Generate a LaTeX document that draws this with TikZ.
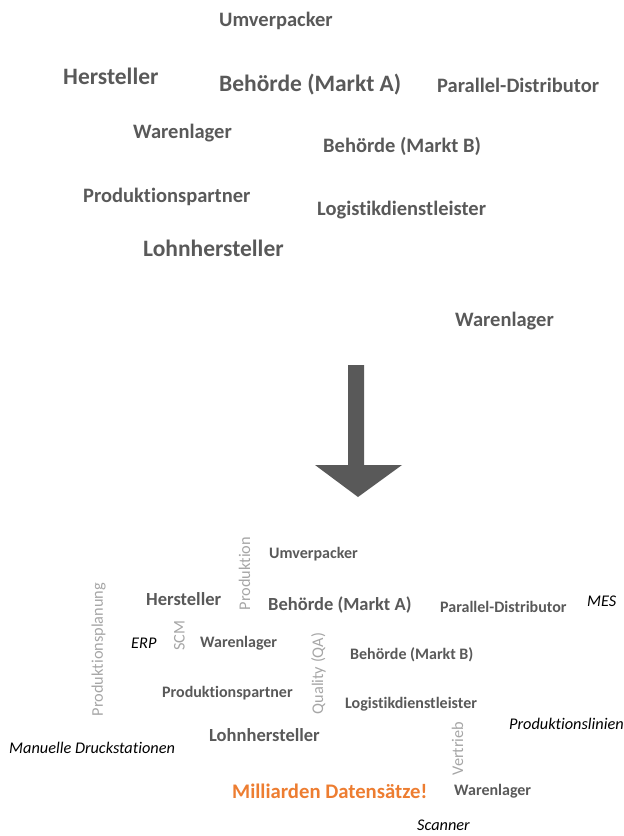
\documentclass[tikz,border=0pt]{standalone}
\usepackage{fontspec}
\setmainfont{Carlito}[Ligatures={NoCommon}]
\usetikzlibrary{arrows.meta, positioning}
\definecolor{textgrau}{HTML}{595959}
\definecolor{hellgrau}{HTML}{A6A6A6}
\definecolor{akzent}{HTML}{ED7D31}

\begin{document}
\begin{tikzpicture}[
	x=1pt, y=-1pt,
	every node/.style={inner sep=0pt, anchor=west, yshift=-1.5pt},
	akteur/.style={font=\fontsize{20.5}{24}\selectfont\bfseries, text=textgrau},
	akteur_gross/.style={font=\fontsize{23.5}{28}\selectfont\bfseries, text=textgrau},
	klein/.style={font=\fontsize{16}{19}\selectfont\bfseries, text=textgrau},
	klein_gross/.style={font=\fontsize{18.5}{22}\selectfont\bfseries, text=textgrau},
	bereich/.style={font=\fontsize{16.3}{19}\selectfont, text=hellgrau, rotate=90, anchor=center, yshift=1.5pt},
	system/.style={font=\fontsize{16.3}{19}\selectfont\itshape, text=black},
	fazit/.style={font=\fontsize{20.7}{24}\selectfont\bfseries, text=akzent}
	]
	\useasboundingbox (0,0) rectangle (624,836);
	
	% --- AKTEURE (OBEN) ---
	\node[akteur] (umv1) at (219,19) {Umverpacker};
	\node[akteur_gross] (her1) at (63,75) {Hersteller};
	\node[akteur_gross] (beha1) at (219,83) {Behörde (Markt A)};
	\node[akteur] (par1) at (437,84) {Parallel-Distributor};
	\node[akteur] (war1) at (133,132) {Warenlager};
	\node[akteur] (behb1) at (323,145) {Behörde (Markt B)};
	\node[akteur] (pro1) at (83,195) {Produktionspartner};
	\node[akteur] (log1) at (317,209) {Logistikdienstleister};
	\node[akteur_gross] (lohn1) at (143,247) {Lohnhersteller};
	\node[akteur] (war2) at (455,320) {Warenlager};
	
	% --- PFEIL ---
	\fill[textgrau] (348,365) -- (364,365) -- (364,465) -- (402,465) -- (358,497)
		-- (315,465) -- (348,465) -- cycle;
	
	% --- AKTEURE (UNTEN) ---
	\node[klein] (umv3) at (269,553) {Umverpacker};
	\node[klein_gross] (her3) at (146,598) {Hersteller};
	\node[klein_gross] (beha3) at (268,604) {Behörde (Markt A)};
	\node[klein] (par3) at (440,605) {Parallel-Distributor};
	\node[klein] (war3) at (200,642) {Warenlager};
	\node[klein] (behb3) at (350,653) {Behörde (Markt B)};
	\node[klein] (pro3) at (162,692) {Produktionspartner};
	\node[klein] (log3) at (345,703) {Logistikdienstleister};
	\node[klein_gross] (lohn3) at (209,734) {Lohnhersteller};
	\node[klein] (war4) at (454,790) {Warenlager};
	\node[fazit] (fazit) at (232,790) {Milliarden Datensätze!};
	
	% --- BEREICHE ---
	\node[bereich] (planung) at (100,648) {Produktionsplanung};
	\node[bereich] (produktion) at (246,572) {Produktion};
	\node[bereich] (scm) at (181,634) {SCM};
	\node[bereich] (qa) at (320,672) {Quality (QA)};
	\node[bereich] (vertrieb) at (459,747) {Vertrieb};
	
	% --- SYSTEME ---
	\node[system] (erp) at (131,642) {ERP};
	\node[system] (mes) at (587,600) {MES};
	\node[system] (linien) at (509,722) {Produktionslinien};
	\node[system] (druck) at (9,746) {Manuelle Druckstationen};
	\node[system] (scanner) at (417,824) {Scanner};
	
\end{tikzpicture}
\end{document}
